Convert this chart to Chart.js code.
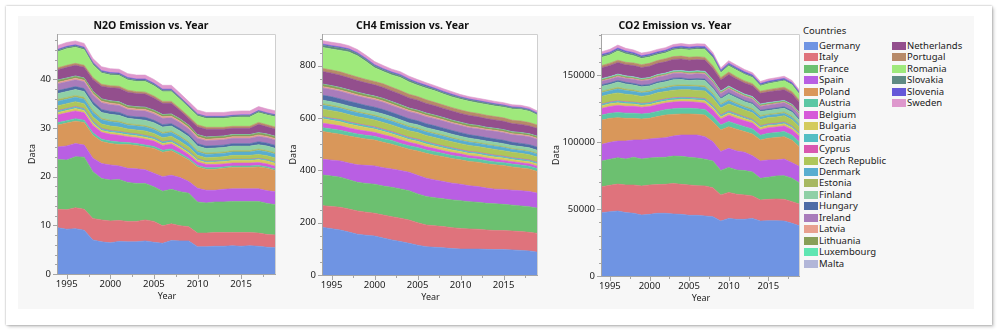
<!DOCTYPE html>
<html>
<head>
<meta charset="utf-8">
<script src="https://cdn.jsdelivr.net/npm/chart.js@4.4.1/dist/chart.umd.min.js"></script>
<style>
  body { margin: 0; background: #fff; font-family: "Noto Sans", sans-serif; }
  #card { position: absolute; left: 6px; top: 6px; width: 986px; height: 319px; background: #fff;
          box-shadow: 0 0 2px rgba(0,0,0,.35), 2px 2px 3px rgba(0,0,0,.18); }
  #panel { position: absolute; left: 18px; top: 16px; width: 956px; height: 293px; background: #f7f7f7; }
  canvas { position: absolute; }
  #legendTitle { position: absolute; left: 803px; top: 24px; font-size: 9.5px; line-height: 13px; color: #222; }
  #legend { position: absolute; left: 804px; top: 40px; }
  .item { position: absolute; height: 11px; font-size: 9.5px; line-height: 11px; color: #222; white-space: nowrap; }
  .sw { position: absolute; left: 0; top: 2px; width: 14px; height: 8px; }
  .lbl { position: absolute; left: 15px; top: 0; }
</style>
</head>
<body>
<div id="card"></div>
<div id="panel"></div>
<canvas id="n2o" width="251" height="288" style="left:26px;top:14px"></canvas>
<canvas id="ch4" width="252" height="289" style="left:287px;top:14px"></canvas>
<canvas id="co2" width="251" height="290" style="left:550px;top:14px"></canvas>
<div id="legendTitle">Countries</div>
<div id="legend"></div>
<script>
const years = [1994, 1995, 1996, 1997, 1998, 1999, 2000, 2001, 2002, 2003, 2004, 2005, 2006,
  2007, 2008, 2009, 2010, 2011, 2012, 2013, 2014, 2015, 2016, 2017, 2018, 2019];

const countries = ['Germany', 'Italy', 'France', 'Spain', 'Poland', 'Austria', 'Belgium', 'Bulgaria',
  'Croatia', 'Cyprus', 'Czech Republic', 'Denmark', 'Estonia', 'Finland', 'Hungary', 'Ireland',
  'Latvia', 'Lithuania', 'Luxembourg', 'Malta', 'Netherlands', 'Portugal', 'Romania', 'Slovakia',
  'Slovenia', 'Sweden'];

const colors = ['#6f94e3', '#df737c', '#6cc070', '#b95fe3', '#d9975a', '#5cc7a4', '#d65ad9', '#d4cb5c',
  '#54bec4', '#d957b0', '#aec65a', '#58add0', '#a7b861', '#8fd0a6', '#4e6ca6', '#a97cbb',
  '#e8a08f', '#879f58', '#5fe6b2', '#b2b6d8', '#934f8d', '#b78a69', '#9fe97b', '#5f8a83',
  '#6658d8', '#de98cd'];

// one row per country, same order as countries
const n2oValues = [
  [9.5, 9.2, 9.3, 9.0, 7.0, 6.6, 6.4, 6.7, 6.6, 6.6, 6.8, 6.5, 6.3, 6.9, 6.8, 6.8, 5.6, 5.6, 5.7, 5.7, 5.8, 5.7, 5.8, 5.7, 5.5, 5.4],
  [3.8, 4.0, 4.3, 4.3, 4.4, 4.5, 4.5, 4.3, 4.2, 4.2, 4.3, 4.3, 3.6, 3.4, 3.1, 2.9, 2.8, 2.8, 2.8, 2.8, 2.7, 2.8, 2.7, 2.7, 2.6, 2.6],
  [10.2, 10.2, 10.5, 10.7, 9.6, 8.5, 8.4, 8.4, 8.0, 7.8, 7.5, 7.1, 7.1, 7.1, 7.0, 6.9, 6.4, 6.2, 6.3, 6.3, 6.4, 6.4, 6.4, 6.5, 6.4, 6.2],
  [2.6, 2.9, 2.7, 2.5, 2.8, 3.1, 3.1, 2.8, 2.9, 3.0, 2.8, 2.8, 3.0, 2.9, 2.9, 2.4, 2.8, 2.6, 2.4, 2.6, 2.6, 2.6, 2.6, 2.6, 2.6, 2.7],
  [4.5, 4.7, 4.6, 4.6, 4.7, 4.5, 4.4, 4.4, 4.9, 4.8, 4.7, 5.1, 5.0, 5.0, 4.6, 4.4, 4.4, 4.3, 4.3, 4.3, 4.4, 4.4, 4.4, 4.5, 4.6, 4.3],
  [0.5, 0.5, 0.5, 0.5, 0.5, 0.5, 0.5, 0.5, 0.4, 0.4, 0.4, 0.4, 0.4, 0.4, 0.4, 0.3, 0.3, 0.3, 0.3, 0.3, 0.3, 0.3, 0.3, 0.3, 0.3, 0.3],
  [1.6, 1.6, 1.6, 1.5, 1.5, 1.4, 1.4, 1.4, 1.2, 1.2, 1.2, 1.1, 1.0, 1.0, 0.9, 0.8, 0.7, 0.7, 0.7, 0.6, 0.6, 0.6, 0.6, 0.6, 0.6, 0.6],
  [0.5, 0.5, 0.5, 0.5, 0.5, 0.4, 0.4, 0.4, 0.4, 0.4, 0.4, 0.4, 0.4, 0.4, 0.4, 0.4, 0.4, 0.4, 0.5, 0.5, 0.5, 0.5, 0.5, 0.6, 0.6, 0.6],
  [0.3, 0.3, 0.3, 0.3, 0.3, 0.3, 0.3, 0.3, 0.3, 0.3, 0.3, 0.3, 0.3, 0.3, 0.3, 0.3, 0.2, 0.2, 0.2, 0.2, 0.2, 0.2, 0.2, 0.2, 0.2, 0.2],
  [0.08, 0.08, 0.09, 0.09, 0.09, 0.09, 0.09, 0.09, 0.08, 0.08, 0.08, 0.08, 0.08, 0.08, 0.08, 0.08, 0.07, 0.07, 0.07, 0.07, 0.07, 0.07, 0.07, 0.07, 0.07, 0.07],
  [1.0, 1.0, 1.0, 1.0, 0.9, 0.9, 0.9, 0.9, 0.8, 0.8, 0.9, 0.8, 0.8, 0.8, 0.8, 0.8, 0.7, 0.7, 0.7, 0.7, 0.8, 0.8, 0.8, 0.8, 0.8, 0.8],
  [0.9, 0.9, 0.9, 0.9, 0.9, 0.9, 0.9, 0.9, 0.8, 0.8, 0.8, 0.8, 0.8, 0.8, 0.8, 0.8, 0.7, 0.7, 0.7, 0.7, 0.7, 0.7, 0.7, 0.8, 0.8, 0.8],
  [0.4, 0.4, 0.4, 0.4, 0.4, 0.3, 0.3, 0.3, 0.3, 0.3, 0.3, 0.3, 0.3, 0.3, 0.3, 0.3, 0.3, 0.3, 0.3, 0.3, 0.3, 0.3, 0.3, 0.3, 0.3, 0.3],
  [1.2, 1.2, 1.2, 1.2, 1.2, 1.2, 1.2, 1.2, 1.1, 1.1, 1.1, 1.1, 1.1, 1.0, 1.0, 1.0, 0.9, 0.9, 0.9, 0.9, 0.9, 0.9, 0.9, 0.9, 0.9, 0.9],
  [0.6, 0.6, 0.6, 0.6, 0.6, 0.6, 0.6, 0.6, 0.5, 0.5, 0.6, 0.5, 0.5, 0.5, 0.5, 0.5, 0.5, 0.5, 0.5, 0.5, 0.5, 0.5, 0.5, 0.6, 0.6, 0.6],
  [1.4, 1.4, 1.4, 1.4, 1.4, 1.4, 1.4, 1.4, 1.3, 1.3, 1.3, 1.3, 1.3, 1.2, 1.2, 1.1, 1.1, 1.1, 1.1, 1.1, 1.1, 1.1, 1.1, 1.1, 1.1, 1.1],
  [0.3, 0.3, 0.3, 0.3, 0.3, 0.3, 0.3, 0.3, 0.3, 0.3, 0.3, 0.3, 0.3, 0.3, 0.3, 0.3, 0.3, 0.3, 0.3, 0.3, 0.3, 0.3, 0.3, 0.3, 0.3, 0.3],
  [0.4, 0.4, 0.4, 0.4, 0.4, 0.4, 0.4, 0.4, 0.4, 0.4, 0.4, 0.4, 0.4, 0.4, 0.4, 0.4, 0.4, 0.4, 0.4, 0.4, 0.4, 0.4, 0.4, 0.4, 0.4, 0.4],
  [0.05, 0.05, 0.05, 0.05, 0.05, 0.05, 0.05, 0.05, 0.05, 0.05, 0.05, 0.05, 0.05, 0.05, 0.05, 0.05, 0.04, 0.04, 0.04, 0.04, 0.04, 0.04, 0.04, 0.04, 0.04, 0.04],
  [0.03, 0.03, 0.03, 0.03, 0.03, 0.03, 0.03, 0.03, 0.03, 0.03, 0.03, 0.03, 0.03, 0.03, 0.03, 0.03, 0.03, 0.03, 0.03, 0.03, 0.03, 0.03, 0.03, 0.03, 0.03, 0.03],
  [2.1, 2.2, 2.2, 2.2, 2.4, 2.6, 2.7, 2.8, 2.8, 2.7, 2.7, 2.5, 2.3, 2.2, 1.7, 1.4, 1.6, 1.6, 1.5, 1.4, 1.3, 1.3, 1.3, 1.7, 1.5, 1.5],
  [0.4, 0.4, 0.4, 0.4, 0.4, 0.4, 0.4, 0.4, 0.4, 0.4, 0.4, 0.4, 0.4, 0.4, 0.4, 0.4, 0.4, 0.4, 0.4, 0.4, 0.4, 0.4, 0.4, 0.4, 0.4, 0.4],
  [3.3, 3.4, 3.3, 3.2, 2.6, 2.3, 2.2, 2.2, 2.1, 2.1, 2.2, 2.1, 2.0, 2.0, 1.9, 1.8, 1.8, 1.8, 1.8, 1.8, 1.8, 1.9, 1.9, 2.0, 2.0, 2.1],
  [0.3, 0.3, 0.3, 0.3, 0.3, 0.3, 0.3, 0.3, 0.3, 0.3, 0.3, 0.3, 0.3, 0.3, 0.3, 0.3, 0.3, 0.3, 0.3, 0.3, 0.3, 0.3, 0.3, 0.3, 0.3, 0.3],
  [0.2, 0.2, 0.2, 0.2, 0.2, 0.2, 0.2, 0.2, 0.2, 0.2, 0.2, 0.2, 0.2, 0.2, 0.15, 0.15, 0.15, 0.15, 0.15, 0.15, 0.15, 0.15, 0.15, 0.15, 0.15, 0.15],
  [0.8, 0.8, 0.8, 0.8, 0.8, 0.8, 0.8, 0.8, 0.8, 0.8, 0.8, 0.8, 0.8, 0.8, 0.8, 0.8, 0.8, 0.8, 0.8, 0.8, 0.8, 0.8, 0.8, 0.8, 0.8, 0.8]
];

const ch4Values = [
  [182, 177, 172, 164, 156, 152, 149, 141, 134, 128, 121, 114, 108, 106, 104, 101, 99, 99, 99, 98, 97, 97, 96, 94, 92, 87],
  [83, 85, 87, 88, 89, 88, 87, 88, 89, 89, 89, 86, 83, 82, 81, 80, 79, 77, 76, 74, 73, 73, 72, 72, 71, 72],
  [117, 116, 115, 112, 109, 110, 111, 111, 112, 112, 112, 110, 109, 107, 106, 106, 106, 104, 103, 102, 102, 100, 99, 98, 98, 96],
  [60, 61, 62, 64, 67, 69, 70, 70, 70, 70, 71, 71, 70, 68, 66, 64, 63, 61, 60, 58, 56, 57, 57, 58, 58, 57],
  [106, 104, 102, 103, 104, 101, 99, 97, 95, 91, 88, 93, 95, 95, 95, 94, 93, 93, 93, 93, 93, 91, 89, 87, 86, 83],
  [15, 15, 15, 15, 14, 14, 14, 14, 14, 13, 13, 13, 13, 13, 12, 12, 12, 12, 12, 12, 11, 11, 11, 11, 11, 11],
  [17, 17, 17, 16, 16, 16, 15, 15, 14, 14, 13, 13, 12, 12, 11, 11, 11, 10, 10, 10, 10, 9, 9, 9, 9, 9],
  [17, 16, 16, 15, 15, 14, 13, 13, 12, 12, 11, 11, 11, 10, 10, 10, 9, 9, 9, 9, 9, 9, 8, 8, 8, 8],
  [6, 6, 6, 6, 6, 6, 6, 6, 6, 6, 6, 6, 6, 6, 6, 6, 5, 5, 5, 5, 5, 5, 5, 5, 5, 5],
  [1.8, 1.9, 1.9, 2.0, 2.0, 2.0, 2.1, 2.1, 2.1, 2.1, 2.2, 2.2, 2.2, 2.1, 2.1, 2.1, 2.0, 2.0, 2.0, 2.0, 1.9, 1.9, 1.9, 1.9, 1.9, 1.9],
  [29, 29, 28, 28, 27, 27, 26, 26, 25, 25, 25, 25, 24, 24, 24, 23, 23, 23, 22, 22, 22, 21, 21, 21, 20, 20],
  [15, 15, 15, 15, 15, 14, 14, 14, 14, 14, 13, 13, 13, 13, 13, 12, 12, 12, 12, 12, 12, 12, 11, 11, 11, 11],
  [6, 6, 5, 5, 5, 5, 5, 5, 5, 5, 5, 5, 5, 5, 5, 5, 4, 4, 4, 4, 4, 4, 4, 4, 4, 4],
  [13, 13, 13, 13, 13, 13, 13, 13, 13, 12, 12, 12, 12, 12, 12, 12, 12, 12, 11, 11, 11, 11, 11, 11, 11, 11],
  [19, 19, 18, 18, 18, 17, 17, 17, 16, 16, 16, 15, 15, 15, 14, 14, 14, 13, 13, 13, 13, 13, 12, 12, 12, 12],
  [28, 28, 29, 29, 28, 28, 28, 28, 27, 27, 27, 27, 27, 27, 27, 27, 27, 27, 28, 28, 29, 29, 29, 30, 30, 30],
  [5, 5, 5, 5, 5, 5, 5, 5, 5, 5, 5, 5, 5, 5, 5, 4, 4, 4, 4, 4, 4, 4, 4, 4, 4, 4],
  [8, 8, 8, 8, 8, 8, 8, 8, 8, 8, 7, 7, 7, 7, 7, 7, 7, 7, 7, 6, 6, 6, 6, 6, 6, 6],
  [1.0, 1.0, 1.0, 1.0, 1.0, 1.0, 1.0, 1.0, 1.0, 1.1, 1.1, 1.1, 1.1, 1.1, 1.1, 1.0, 1.0, 1.0, 1.0, 1.0, 1.0, 1.0, 1.0, 1.0, 1.0, 1.0],
  [0.5, 0.5, 0.5, 0.5, 0.5, 0.5, 0.5, 0.5, 0.5, 0.5, 0.5, 0.5, 0.5, 0.5, 0.5, 0.5, 0.6, 0.6, 0.6, 0.6, 0.6, 0.6, 0.6, 0.6, 0.6, 0.6],
  [48, 48, 47, 46, 45, 44, 43, 42, 41, 40, 39, 38, 37, 36, 35, 35, 34, 34, 33, 33, 32, 32, 31, 31, 30, 30],
  [12, 12, 13, 13, 13, 13, 13, 14, 14, 14, 14, 14, 14, 13, 13, 13, 13, 13, 13, 13, 13, 13, 13, 13, 13, 13],
  [80, 80, 82, 86, 81, 68, 52, 47, 47, 50, 47, 43, 44, 44, 42, 41, 41, 41, 40, 41, 40, 41, 43, 44, 43, 37],
  [9, 9, 9, 8, 8, 8, 8, 7, 7, 7, 7, 7, 7, 6, 6, 6, 6, 6, 6, 6, 6, 5, 5, 5, 5, 5],
  [4, 4, 4, 4, 4, 4, 4, 4, 4, 4, 4, 4, 4, 4, 4, 4, 3, 3, 3, 3, 3, 3, 3, 3, 3, 3],
  [13, 13, 13, 12, 12, 12, 12, 12, 11, 11, 11, 11, 10, 10, 10, 10, 9, 9, 9, 9, 9, 9, 8, 8, 8, 8]
];

const co2Values = [
  [47250, 48000, 48500, 47300, 46800, 45500, 46000, 46800, 46800, 46300, 46000, 45300, 45300, 44800, 44300, 41000, 43000, 42300, 42300, 43000, 41000, 41300, 41300, 41000, 39300, 37300],
  [19400, 19700, 20100, 20600, 21100, 21700, 21900, 21400, 21600, 22800, 22400, 22600, 22100, 22400, 21600, 19500, 19400, 18700, 18200, 16700, 15700, 15900, 16200, 16200, 16200, 16200],
  [19150, 19500, 19650, 19400, 20700, 20100, 20150, 20150, 20200, 20400, 20900, 20700, 20650, 19900, 19900, 18150, 18650, 18150, 18150, 17900, 16200, 16450, 17150, 17650, 17450, 15650],
  [12450, 12550, 12450, 13450, 12900, 14200, 14200, 14450, 14650, 14950, 15900, 16600, 17150, 16900, 14450, 14200, 14200, 14200, 13700, 12200, 12950, 12900, 11950, 12450, 11600, 12300],
  [18150, 17900, 17400, 16900, 16150, 15650, 15400, 16150, 16900, 16150, 15700, 15700, 15450, 16150, 14900, 16150, 16100, 16150, 15400, 16200, 15650, 16200, 16700, 16700, 16750, 14500],
  [3700, 3800, 3900, 3900, 3800, 3800, 3800, 3900, 4000, 4200, 4300, 4300, 4200, 4100, 4000, 3700, 3900, 3800, 3700, 3700, 3600, 3700, 3700, 3800, 3700, 3700],
  [5000, 5100, 5300, 5100, 5200, 5000, 5000, 5000, 4900, 5000, 5000, 4900, 4800, 4700, 4800, 4500, 4800, 4500, 4400, 4400, 4100, 4200, 4200, 4200, 4200, 4100],
  [2000, 2000, 2000, 1900, 1700, 1500, 1500, 1600, 1500, 1600, 1600, 1600, 1700, 1800, 1800, 1500, 1600, 1800, 1600, 1500, 1700, 1600, 1500, 1600, 1500, 1400],
  [1000, 1000, 1100, 1100, 1100, 1100, 1100, 1200, 1200, 1200, 1200, 1200, 1200, 1300, 1200, 1100, 1100, 1000, 1000, 900, 900, 900, 900, 1000, 900, 900],
  [300, 300, 300, 300, 300, 300, 300, 350, 350, 350, 350, 350, 350, 400, 400, 400, 400, 350, 350, 350, 350, 350, 350, 350, 350, 350],
  [5800, 5800, 5900, 5700, 5400, 5200, 5600, 5700, 5600, 5700, 5700, 5700, 5600, 5700, 5500, 5200, 5300, 5200, 5000, 4900, 4700, 4700, 4700, 4700, 4700, 4500],
  [2500, 2600, 3000, 2700, 2600, 2500, 2400, 2400, 2400, 2600, 2500, 2400, 2700, 2500, 2400, 2300, 2300, 2100, 2000, 2000, 1800, 1700, 1800, 1700, 1700, 1500],
  [1200, 1200, 1200, 1200, 1100, 1000, 1000, 1000, 1000, 1100, 1100, 1100, 1100, 1300, 1100, 900, 1100, 1100, 1100, 1200, 1100, 900, 1000, 1100, 1100, 700],
  [3700, 3500, 3900, 3800, 3600, 3600, 3500, 3700, 3800, 4100, 4000, 3400, 4000, 3900, 3500, 3400, 3800, 3500, 3200, 3300, 3000, 2800, 2900, 2800, 2800, 2600],
  [1200, 1200, 1200, 1200, 1200, 1200, 1100, 1100, 1100, 1200, 1200, 1100, 1100, 1100, 1100, 1000, 1000, 1000, 900, 900, 900, 1000, 1000, 1000, 1000, 1000],
  [2500, 2600, 2700, 2800, 3000, 3200, 3400, 3500, 3500, 3500, 3500, 3500, 3600, 3600, 3400, 3000, 3000, 2800, 2800, 2800, 2800, 2900, 3000, 3000, 3000, 2900],
  [500, 500, 500, 500, 500, 450, 450, 450, 450, 450, 450, 450, 500, 500, 500, 450, 500, 450, 450, 450, 450, 450, 450, 450, 450, 450],
  [800, 800, 800, 800, 800, 700, 700, 700, 700, 700, 700, 800, 800, 800, 800, 700, 700, 700, 700, 700, 700, 700, 700, 700, 700, 700],
  [500, 500, 500, 450, 400, 400, 400, 450, 500, 550, 600, 650, 600, 600, 600, 550, 600, 600, 550, 550, 500, 500, 450, 450, 450, 450],
  [300, 300, 300, 300, 300, 300, 300, 300, 300, 300, 300, 300, 300, 300, 300, 300, 300, 300, 300, 300, 300, 300, 250, 200, 200, 200],
  [8000, 8300, 8600, 8300, 8400, 8200, 8300, 8400, 8400, 8500, 8600, 8400, 8300, 8400, 8400, 8200, 8700, 8300, 8200, 8100, 7900, 8000, 8100, 8000, 7800, 7600],
  [1700, 1700, 1700, 1800, 1900, 2100, 2200, 2100, 2300, 2100, 2100, 2200, 2100, 2000, 1900, 1800, 1700, 1600, 1600, 1500, 1600, 1600, 1700, 1800, 1700, 1600],
  [6200, 6050, 6900, 6200, 5500, 4600, 4700, 4300, 4200, 4900, 5200, 5400, 5600, 5800, 5900, 3600, 4600, 4900, 4800, 4600, 3900, 4500, 4600, 4800, 4900, 4300],
  [1200, 1200, 1200, 1200, 1200, 1100, 1100, 1100, 1100, 1100, 1100, 1100, 1100, 1100, 1100, 1000, 1000, 1000, 1000, 900, 900, 900, 900, 900, 900, 900],
  [900, 950, 1000, 1000, 1000, 950, 950, 1000, 1000, 1000, 1050, 1050, 1050, 1100, 1100, 1000, 1000, 1000, 1000, 950, 900, 900, 900, 900, 900, 850],
  [2000, 2100, 2200, 2000, 2000, 2000, 1900, 1900, 1900, 2000, 2000, 1900, 1900, 1900, 1800, 1700, 1900, 1800, 1700, 1700, 1600, 1600, 1600, 1600, 1600, 1500]
];

const yearTicks = [1995, 2000, 2005, 2010, 2015];
const n2oTicks = [0, 10, 20, 30, 40];
const ch4Ticks = [0, 200, 400, 600, 800];
const co2Ticks = [0, 50000, 100000, 150000];

Chart.defaults.font.family = '"Noto Sans", sans-serif';
Chart.defaults.color = '#222';

// white plot area, grey frame, major and minor tick marks
const framePlugin = {
  id: 'frame',
  beforeDraw(chart) {
    const { ctx, chartArea: a } = chart;
    ctx.save();
    ctx.fillStyle = '#fff';
    ctx.fillRect(a.left, a.top, a.right - a.left, a.bottom - a.top);
    ctx.restore();
  },
  afterDraw(chart, args, opts) {
    const { ctx, chartArea: a, scales: { x, y } } = chart;
    ctx.save();
    ctx.lineWidth = 1;
    ctx.strokeStyle = '#cfcfcf';
    ctx.beginPath();
    ctx.moveTo(a.left, a.top + 0.5);
    ctx.lineTo(a.right - 0.5, a.top + 0.5);
    ctx.lineTo(a.right - 0.5, a.bottom);
    ctx.stroke();

    ctx.strokeStyle = '#a5a5a5';
    ctx.beginPath();
    ctx.moveTo(a.left - 0.5, a.top);
    ctx.lineTo(a.left - 0.5, a.bottom + 0.5);
    ctx.lineTo(a.right, a.bottom + 0.5);
    const tick = (axis, v, len) => {
      const p = Math.round(axis.getPixelForValue(v)) + 0.5;
      if (axis === x) { ctx.moveTo(p, a.bottom); ctx.lineTo(p, a.bottom + len); }
      else { ctx.moveTo(a.left, p); ctx.lineTo(a.left - len, p); }
    };
    for (let v = yearTicks[0] - opts.xMinor * 2; v <= x.max; v += opts.xMinor) {
      if (v < x.min) continue;
      tick(x, v, yearTicks.includes(v) ? 5 : 3);
    }
    for (let v = 0; v <= y.max; v += opts.yMinor) {
      tick(y, v, opts.yMajor.includes(v) ? 5 : 3);
    }
    ctx.stroke();
    ctx.restore();
  }
};

function makeChart(id, title, values, yMax, yMajor, yMinor, yWidth) {
  const datasets = countries.map((name, i) => ({
    label: name,
    data: years.map((yr, j) => ({ x: yr, y: values[i][j] })),
    backgroundColor: colors[i],
    borderColor: colors[i],
    borderWidth: 0.6,
    pointRadius: 0,
    tension: 0,
    fill: i === 0 ? 'origin' : '-1',
  }));

  return new Chart(document.getElementById(id), {
    type: 'line',
    data: { datasets },
    plugins: [framePlugin],
    options: {
      responsive: false,
      animation: false,
      events: [],
      layout: { padding: { right: 1 } },
      plugins: {
        legend: { display: false },
        tooltip: { enabled: false },
        title: {
          display: true,
          text: title,
          color: '#111',
          font: { size: 10.5, weight: 'bold', lineHeight: '16px' },
          padding: { top: 4, bottom: 0 },
        },
        frame: { xMinor: 2.5, yMinor, yMajor },
      },
      scales: {
        x: {
          type: 'linear',
          min: 1994,
          max: 2019,
          grid: { display: false, drawTicks: false },
          border: { display: false },
          afterBuildTicks: s => { s.ticks = yearTicks.map(v => ({ value: v })); },
          afterFit: s => { s.height = 28; },
          ticks: { padding: 5, font: { size: 9.5 }, color: '#222', callback: v => String(v) },
          title: { display: true, text: 'Year', font: { size: 9 }, padding: 0, color: '#222' },
        },
        y: {
          stacked: true,
          min: 0,
          max: yMax,
          grid: { display: false, drawTicks: false },
          border: { display: false },
          afterBuildTicks: s => { s.ticks = yMajor.map(v => ({ value: v })); },
          afterFit: s => { s.width = yWidth; },
          ticks: { padding: 7, font: { size: 9.5 }, color: '#222', callback: v => String(v) },
          title: { display: true, text: 'Data', font: { size: 9 }, padding: { top: 1, bottom: 0 }, color: '#222' },
        },
      },
    },
  });
}

makeChart('n2o', 'N2O Emission vs. Year', n2oValues, 49.3, n2oTicks, 2, 32);
makeChart('ch4', 'CH4 Emission vs. Year', ch4Values, 921, ch4Ticks, 50, 36);
makeChart('co2', 'CO2 Emission vs. Year', co2Values, 180600, co2Ticks, 10000, 52);

const legend = document.getElementById('legend');
countries.forEach((name, i) => {
  const item = document.createElement('div');
  item.className = 'item';
  item.style.left = (i < 20 ? 0 : 88) + 'px';
  item.style.top = ((i % 20) * 11.45) + 'px';
  item.innerHTML = `<span class="sw" style="background:${colors[i]}"></span><span class="lbl">${name}</span>`;
  legend.appendChild(item);
});
</script>
</body>
</html>
